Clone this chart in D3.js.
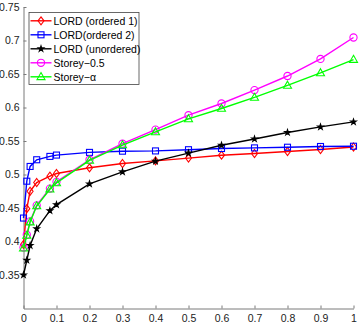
<!DOCTYPE html>
<html>
<head>
<meta charset="utf-8">
<script src="https://cdn.jsdelivr.net/npm/d3@7"></script>
<style>
  body { margin: 0; background: #fff; }
  text { font-family: "Liberation Sans", Arial, sans-serif; }
</style>
</head>
<body>
<div id="chart"></div>
<script>
// dados
let x_vals = [0, 0.01, 0.02, 0.04, 0.08, 0.1, 0.2, 0.3, 0.4, 0.5, 0.6, 0.7, 0.8, 0.9, 1];

let lord_ord1 = [0.3955, 0.449, 0.475, 0.488, 0.4975, 0.5015, 0.510, 0.5164, 0.5203, 0.5245, 0.5288, 0.5313, 0.5343, 0.5373, 0.541];
let lord_ord2 = [0.435, 0.490, 0.512, 0.522, 0.527, 0.529, 0.533, 0.5348, 0.5352, 0.537, 0.5388, 0.5397, 0.5407, 0.5418, 0.5422];
let lord_unord = [0.35, 0.372, 0.394, 0.419, 0.446, 0.455, 0.486, 0.504, 0.520, 0.532, 0.5437, 0.553, 0.5627, 0.571, 0.5785];
let storey_05 = [0.391, 0.41, 0.43, 0.454, 0.479, 0.489, 0.522, 0.546, 0.567, 0.5885, 0.606, 0.626, 0.647, 0.6725, 0.7045];
let storey_alpha = [0.390, 0.409, 0.429, 0.453, 0.478, 0.4875, 0.521, 0.544, 0.5636, 0.583, 0.5985, 0.615, 0.633, 0.6516, 0.6716];

let series_names = ['LORD (ordered 1)', 'LORD(ordered 2)', 'LORD (unordered)', 'Storey\u22120.5', 'Storey\u2212\u03b1'];

let x_ticks = [0, 0.1, 0.2, 0.3, 0.4, 0.5, 0.6, 0.7, 0.8, 0.9, 1];
let y_ticks = [0.35, 0.4, 0.45, 0.5, 0.55, 0.6, 0.65, 0.7, 0.75];

let width = 360;
let height = 326;

let series = [
  {name: series_names[0], values: lord_ord1, color: '#ff0000', marker: 'diamond'},
  {name: series_names[1], values: lord_ord2, color: '#0000ff', marker: 'square'},
  {name: series_names[2], values: lord_unord, color: '#000000', marker: 'star'},
  {name: series_names[3], values: storey_05, color: '#ff00ff', marker: 'circle'},
  {name: series_names[4], values: storey_alpha, color: '#00ff00', marker: 'triangle'}
];

let svg = d3.select('#chart')
  .append('svg')
  .attr('width', width)
  .attr('height', height);

// escalas
let x_scale = d3.scaleLinear()
  .domain([0, 1])
  .range([23.5, 353.5]);

let y_scale = d3.scaleLinear()
  .domain([0.3, 0.75])
  .range([308.5, 7]);

// eixos
let x_axis = d3.axisBottom(x_scale)
  .tickValues(x_ticks)
  .tickSizeInner(-3)
  .tickSizeOuter(0)
  .tickPadding(6)
  .tickFormat(d => String(+d.toFixed(2)));

let gx = svg.append('g')
  .attr('transform', 'translate(0,' + y_scale(0.3) + ')')
  .call(x_axis);

let y_axis = d3.axisLeft(y_scale)
  .tickValues(y_ticks)
  .tickSizeInner(-3)
  .tickSizeOuter(0)
  .tickPadding(4)
  .tickFormat(d => String(+d.toFixed(2)));

let gy = svg.append('g')
  .attr('transform', 'translate(' + x_scale(0) + ',0)')
  .call(y_axis);

[gx, gy].forEach(g => {
  g.select('.domain').attr('stroke', '#7a7a7a');
  g.selectAll('.tick line').attr('stroke', '#7a7a7a');
  g.selectAll('.tick text').attr('fill', '#222').style('font-size', '10.5px');
});

// marcadores
function draw_marker(g, type, color) {
  if (type === 'diamond') {
    g.append('path').attr('d', 'M0,-4L3,0L0,4L-3,0Z')
      .attr('fill', 'none').attr('stroke', color).attr('stroke-width', 1.1);
  } else if (type === 'square') {
    g.append('rect').attr('x', -3).attr('y', -3).attr('width', 6).attr('height', 6)
      .attr('fill', 'none').attr('stroke', color).attr('stroke-width', 1.1);
  } else if (type === 'star') {
    g.append('path').attr('d', d3.symbol(d3.symbolStar, 9)())
      .attr('fill', color).attr('stroke', color).attr('stroke-width', 1.2);
  } else if (type === 'circle') {
    g.append('circle').attr('r', 3.6)
      .attr('fill', 'none').attr('stroke', color).attr('stroke-width', 1.1);
  } else if (type === 'triangle') {
    g.append('path').attr('d', 'M0,-4.2L4,2.8L-4,2.8Z')
      .attr('fill', 'none').attr('stroke', color).attr('stroke-width', 1.1);
  }
}

let line = d3.line()
  .x((d, i) => x_scale(x_vals[i]))
  .y(d => y_scale(d));

series.forEach(s => {
  let g = svg.append('g');
  g.append('path')
    .datum(s.values)
    .attr('d', line)
    .attr('fill', 'none')
    .attr('stroke', s.color)
    .attr('stroke-width', 1.4);
  g.selectAll('g.pt')
    .data(s.values)
    .enter()
    .append('g')
    .attr('class', 'pt')
    .attr('transform', (d, i) => 'translate(' + x_scale(x_vals[i]) + ',' + y_scale(d) + ')')
    .each(function () { draw_marker(d3.select(this), s.marker, s.color); });
});

// legenda
let legend = svg.append('g').attr('transform', 'translate(29,12.5)');
legend.append('rect')
  .attr('width', 110)
  .attr('height', 72)
  .attr('fill', '#fff')
  .attr('stroke', '#444')
  .attr('stroke-width', 0.8);

series.forEach((s, i) => {
  let row = legend.append('g').attr('transform', 'translate(0,' + (8.3 + i * 14) + ')');
  row.append('line')
    .attr('x1', 1.5).attr('x2', 22.5)
    .attr('stroke', s.color).attr('stroke-width', 1.4);
  let m = row.append('g').attr('transform', 'translate(12,0)');
  draw_marker(m, s.marker, s.color);
  row.append('text')
    .attr('x', 24.5)
    .attr('y', 3.8)
    .style('font-size', '10.5px')
    .attr('fill', '#000')
    .text(s.name);
});
</script>
</body>
</html>
